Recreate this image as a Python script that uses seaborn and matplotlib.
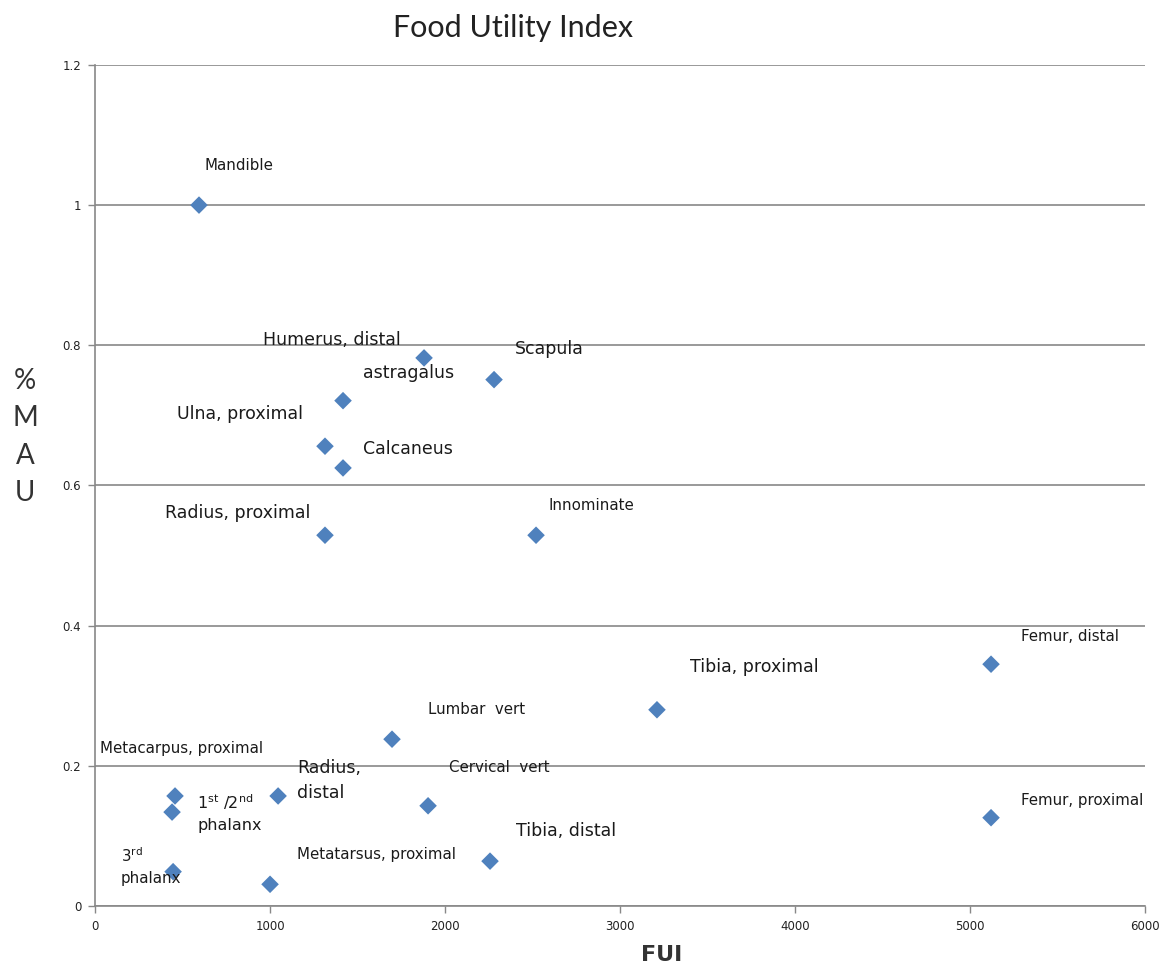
import matplotlib
matplotlib.use("Agg")
import matplotlib.pyplot as plt
import seaborn as sns
import pandas as pd

sns.set_style("white")
plt.rcParams['font.family'] = ['DejaVu Sans']

# values
elements = ["Mandible", "Humerus, distal", "Scapula", "astragalus", "Ulna, proximal",
            "Calcaneus", "Radius, proximal", "Innominate", "Femur, distal",
            "Tibia, proximal", "Lumbar  vert", "Metacarpus, proximal", "Radius,\ndistal",
            "Cervical  vert", "Femur, proximal", "1st/2nd phalanx", "Tibia, distal",
            "3rd phalanx", "Metatarsus, proximal"]
fui = [594, 1880, 2280, 1417, 1314, 1417, 1314, 2520, 5120, 3211, 1697,
       457, 1046, 1903, 5120, 440, 2257, 446, 1000]
mau = [1.0, 0.782, 0.751, 0.721, 0.656, 0.625, 0.529, 0.529, 0.345, 0.280, 0.238,
       0.157, 0.157, 0.143, 0.126, 0.134, 0.064, 0.049, 0.031]

label_text = ["Mandible", "Humerus, distal", "Scapula", "astragalus", "Ulna, proximal",
              "Calcaneus", "Radius, proximal", "Innominate", "Femur, distal",
              "Tibia, proximal", "Lumbar  vert", "Metacarpus, proximal", "Radius,\ndistal",
              "Cervical  vert", "Femur, proximal",
              r"1$^{\mathregular{st}}$ /2$^{\mathregular{nd}}$" + "\nphalanx",
              "Tibia, distal", r"3$^{\mathregular{rd}}$" + "\nphalanx", "Metatarsus, proximal"]
# label offsets from the marker, in pixels
label_dx = [6, -161, 21, 20, -148, 20, -160, 12, 30, 33, 36, -75, 19, 21, 30, 25, 26, -52, 27]
label_dy = [40, 18, 31, 28, 32, 19, 22, 30, 28, 43, 30, 47, 15, 38, 17, -1, 30, 6, 30]
label_size = [10.8, 12.5, 12.5, 12.5, 12.5, 12.5, 12.5, 10.8, 10.8, 12.5, 10.8, 10.8, 12.5,
              10.8, 10.8, 11.5, 12.5, 10.8, 10.8]

df = pd.DataFrame({"FUI": fui, "MAU": mau, "element": elements})

fig = plt.figure(figsize=(11.62, 9.69), dpi=100)
ax = fig.add_axes([0.0818, 0.065, 0.9036, 0.868])

sns.scatterplot(data=df, x="FUI", y="MAU", marker="D", s=80, color="#4F81BD",
                edgecolor="none", ax=ax, zorder=3)

for i in range(len(fui)):
    ax.annotate(label_text[i], (fui[i], mau[i]), xytext=(label_dx[i], label_dy[i]),
                textcoords="offset pixels", ha="left", va="center",
                fontsize=label_size[i], color="#1a1a1a", linespacing=1.5)

ax.set_xlim(0, 6000)
ax.set_ylim(0, 1.2)
ax.set_xticks(range(0, 6001, 1000))
ax.set_yticks([0, 0.2, 0.4, 0.6, 0.8, 1.0, 1.2])
ax.set_yticklabels(["0", "0.2", "0.4", "0.6", "0.8", "1", "1.2"])
ax.tick_params(axis="both", labelsize=8.5, length=5, width=1, color="#888888", pad=5,
               direction="out", left=True, bottom=True, labelcolor="#222222")
ax.yaxis.grid(True, color="#888888", linewidth=1.2)
ax.xaxis.grid(False)
for side in ["top", "right"]:
    ax.spines[side].set_visible(False)
for side in ["left", "bottom"]:
    ax.spines[side].set_color("#888888")
    ax.spines[side].set_linewidth(1.2)

ax.set_xlabel("")
ax.set_ylabel("")
fig.text(662 / 1162, 1 - 955 / 969, "FUI", fontsize=16, fontweight="bold",
         color="#333333", ha="center", va="center")
fig.text(25 / 1162, 1 - 437 / 969, "%\nM\nA\nU", fontsize=20, color="#333333",
         ha="center", va="center", linespacing=1.55, family="Lato")
fig.text(513 / 1162, 1 - 28 / 969, "Food Utility Index", fontsize=22, color="#222222",
         ha="center", va="center", family="Lato")

fig.savefig("out.png", dpi=100)
